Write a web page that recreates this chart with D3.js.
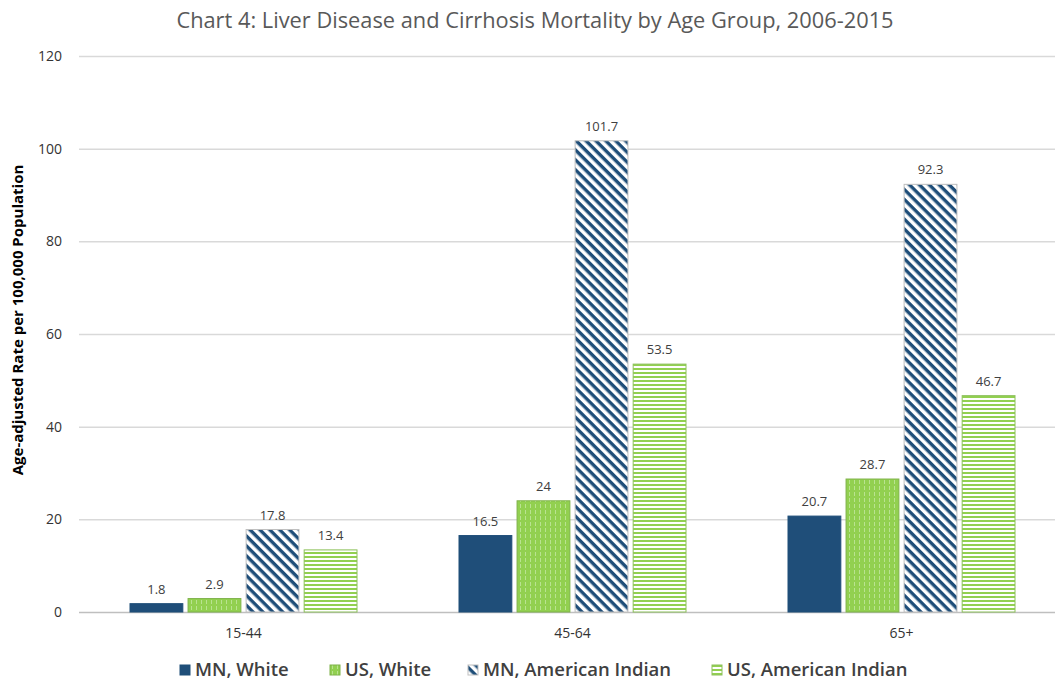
<!DOCTYPE html>
<html>
<head>
<meta charset="utf-8">
<script src="https://cdn.jsdelivr.net/npm/d3@7"></script>
<style>
  body { margin: 0; background: #fff; }
  text { font-family: "Open Sans", "Noto Sans", sans-serif; }
</style>
</head>
<body>
<div id="chart"></div>
<script>
//Chart data
var ageGroups = ["15-44", "45-64", "65+"];
var seriesNames = ["MN, White", "US, White", "MN, American Indian", "US, American Indian"];
var mnWhite = [1.8, 16.5, 20.7];
var usWhite = [2.9, 24, 28.7];
var mnAmIndian = [17.8, 101.7, 92.3];
var usAmIndian = [13.4, 53.5, 46.7];
var yTicks = [0, 20, 40, 60, 80, 100, 120];

var seriesValues = [mnWhite, usWhite, mnAmIndian, usAmIndian];
var fills = ["#1f4e79", "url(#vgreen)", "url(#diagblue)", "url(#hgreen)"];
var strokes = ["#1f4e79", "#7fb24a", "#bfbfbf", "#8cc05a"];

//Sizes
var width = 1055, height = 680;
var plotLeft = 79, plotRight = 1066, plotTop = 56, plotBottom = 612;

var svg = d3.select("#chart").append("svg")
  .attr("width", width)
  .attr("height", height);

//Patterns for the bars
var defs = svg.append("defs");
var vg = defs.append("pattern").attr("id", "vgreen")
  .attr("patternUnits", "userSpaceOnUse").attr("width", 5).attr("height", 6);
vg.append("rect").attr("width", 5).attr("height", 6).attr("fill", "#92d050");
vg.append("rect").attr("x", 2).attr("width", 1).attr("height", 4).attr("fill", "#b9e390");

var hg = defs.append("pattern").attr("id", "hgreen")
  .attr("patternUnits", "userSpaceOnUse").attr("width", 6).attr("height", 4);
hg.append("rect").attr("width", 6).attr("height", 4).attr("fill", "#ffffff");
hg.append("rect").attr("y", 0).attr("width", 6).attr("height", 2).attr("fill", "#92d050");

var db = defs.append("pattern").attr("id", "diagblue")
  .attr("patternUnits", "userSpaceOnUse").attr("width", 7).attr("height", 7)
  .attr("patternTransform", "rotate(45)");
db.append("rect").attr("width", 7).attr("height", 7).attr("fill", "#ffffff");
db.append("rect").attr("width", 7).attr("height", 3.4).attr("fill", "#1f4e79");

//Scales
var y = d3.scaleLinear().domain([0, 120]).range([plotBottom, plotTop]);
var x0 = d3.scaleBand().domain(ageGroups).range([plotLeft, plotRight]);
var x1 = d3.scaleBand().domain(d3.range(4))
  .range([51, x0.bandwidth() - 51]).paddingInner(0.09);

//Title
svg.append("text")
  .attr("x", 535).attr("y", 28)
  .attr("text-anchor", "middle")
  .attr("font-size", 21.8)
  .attr("fill", "#595959")
  .text("Chart 4: Liver Disease and Cirrhosis Mortality by Age Group, 2006-2015");

//Gridlines
svg.append("g").selectAll("line")
  .data(yTicks)
  .enter().append("line")
  .attr("x1", plotLeft).attr("x2", width)
  .attr("y1", d => y(d) + 0.5).attr("y2", d => y(d) + 0.5)
  .attr("stroke", d => d === 0 ? "#bfbfbf" : "#d9d9d9")
  .attr("stroke-width", 1.5);

//Y axis labels
svg.append("g").selectAll("text")
  .data(yTicks)
  .enter().append("text")
  .attr("x", 62).attr("y", d => y(d) + 5)
  .attr("text-anchor", "end")
  .attr("font-size", 14)
  .attr("fill", "#333")
  .text(d => d);

svg.append("text")
  .attr("transform", "translate(23,320) rotate(-90)")
  .attr("text-anchor", "middle")
  .attr("font-size", 15)
  .attr("font-weight", "bold")
  .attr("fill", "#000")
  .text("Age-adjusted Rate per 100,000 Population");

//X axis labels
svg.append("g").selectAll("text")
  .data(ageGroups)
  .enter().append("text")
  .attr("x", d => x0(d) + x0.bandwidth() / 2)
  .attr("y", 638)
  .attr("text-anchor", "middle")
  .attr("font-size", 14)
  .attr("fill", "#333")
  .text(d => d);

//Bars
var groups = svg.append("g").selectAll("g")
  .data(ageGroups)
  .enter().append("g")
  .attr("transform", d => "translate(" + x0(d) + ",0)");

groups.selectAll("rect")
  .data((d, gi) => seriesValues.map((s, si) => ({ si: si, v: s[gi] })))
  .enter().append("rect")
  .attr("x", d => x1(d.si))
  .attr("y", d => y(d.v))
  .attr("width", x1.bandwidth())
  .attr("height", d => y(0) - y(d.v))
  .attr("fill", d => fills[d.si])
  .attr("stroke", d => strokes[d.si])
  .attr("stroke-width", 1);

groups.selectAll("text.val")
  .data((d, gi) => seriesValues.map((s, si) => ({ si: si, v: s[gi] })))
  .enter().append("text")
  .attr("class", "val")
  .attr("x", d => x1(d.si) + x1.bandwidth() / 2)
  .attr("y", d => y(d.v) - 10)
  .attr("text-anchor", "middle")
  .attr("font-size", 13)
  .attr("fill", "#404040")
  .text(d => d.v);

//Legend
var legendX = [180, 330, 468, 712];
var legend = svg.append("g").selectAll("g")
  .data(seriesNames)
  .enter().append("g")
  .attr("transform", (d, i) => "translate(" + legendX[i] + ",665)");
legend.append("rect")
  .attr("width", 10).attr("height", 10)
  .attr("fill", (d, i) => fills[i])
  .attr("stroke", (d, i) => strokes[i]);
legend.append("text")
  .attr("x", 15).attr("y", 11)
  .attr("font-size", 18.5)
  .attr("font-weight", 600)
  .attr("fill", "#404040")
  .text(d => d);
</script>
</body>
</html>
